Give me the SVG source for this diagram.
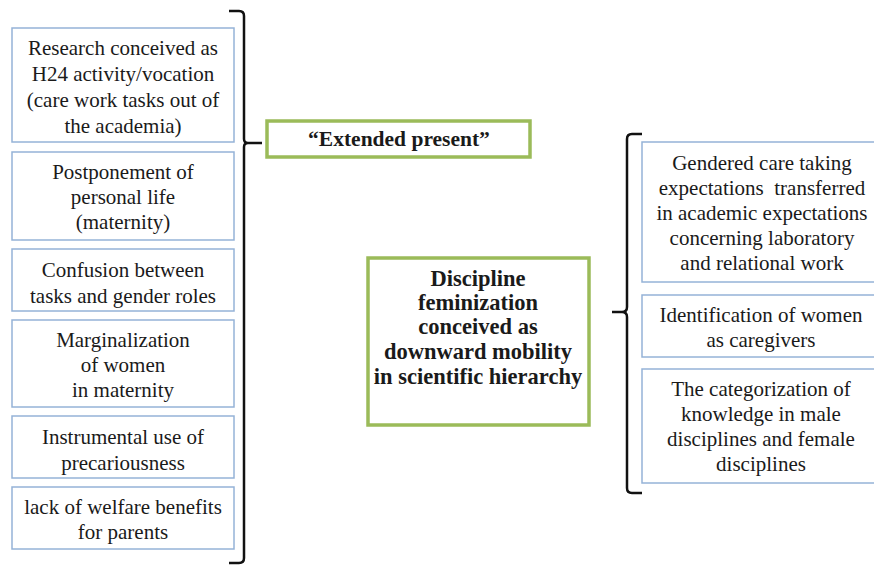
<svg xmlns="http://www.w3.org/2000/svg" width="874" height="567" viewBox="0 0 874 567">
  <style>
    .item { fill: #ffffff; stroke: #95b3d7; stroke-width: 1.5; }
    .key { fill: #ffffff; stroke: #9bbb59; stroke-width: 3.5; }
    .brace { fill: none; stroke: #111111; stroke-width: 2.5; stroke-linejoin: round; }
    text { fill: #1a1a1a; text-anchor: middle; font-size: 21px; }
    text.b { font-weight: bold; font-size: 21.5px; }
    text.bl { font-weight: bold; font-size: 22.5px; }
  </style>
  <rect width="874" height="567" fill="#ffffff"/>

  <!-- left column: items -->
  <g id="item-research">
    <rect class="item" x="12" y="28" width="222" height="114"/>
    <text font-family="Liberation Serif" x="123" y="55">Research conceived as</text>
    <text font-family="Liberation Serif" x="123" y="81">H24 activity/vocation</text>
    <text font-family="Liberation Serif" x="123" y="107">(care work tasks out of</text>
    <text font-family="Liberation Serif" x="123" y="133">the academia)</text>
  </g>
  <g id="item-postponement">
    <rect class="item" x="12" y="152" width="222" height="88"/>
    <text font-family="Liberation Serif" x="123" y="179">Postponement of</text>
    <text font-family="Liberation Serif" x="123" y="204">personal life</text>
    <text font-family="Liberation Serif" x="123" y="229">(maternity)</text>
  </g>
  <g id="item-confusion">
    <rect class="item" x="12" y="249" width="222" height="62"/>
    <text font-family="Liberation Serif" x="123" y="277">Confusion between</text>
    <text font-family="Liberation Serif" x="123" y="303">tasks and gender roles</text>
  </g>
  <g id="item-marginalization">
    <rect class="item" x="12" y="320" width="222" height="87"/>
    <text font-family="Liberation Serif" x="123" y="347">Marginalization</text>
    <text font-family="Liberation Serif" x="123" y="372">of women</text>
    <text font-family="Liberation Serif" x="123" y="397">in maternity</text>
  </g>
  <g id="item-precariousness">
    <rect class="item" x="12" y="416" width="222" height="62"/>
    <text font-family="Liberation Serif" x="123" y="444">Instrumental use of</text>
    <text font-family="Liberation Serif" x="123" y="470">precariousness</text>
  </g>
  <g id="item-welfare">
    <rect class="item" x="12" y="487" width="222" height="62"/>
    <text font-family="Liberation Serif" x="123" y="514">lack of welfare benefits</text>
    <text font-family="Liberation Serif" x="123" y="539">for parents</text>
  </g>

  <!-- central themes -->
  <g id="theme-extended-present">
    <rect class="key" x="267" y="121" width="263" height="36"/>
    <text class="b" font-family="Liberation Serif" x="399" y="146">“Extended present”</text>
  </g>
  <g id="theme-feminization">
    <rect class="key" x="368" y="258" width="221" height="167"/>
    <text class="bl" font-family="Liberation Serif" x="478" y="286">Discipline</text>
    <text class="bl" font-family="Liberation Serif" x="478" y="310">feminization</text>
    <text class="bl" font-family="Liberation Serif" x="478" y="334">conceived as</text>
    <text class="bl" font-family="Liberation Serif" x="478" y="359">downward mobility</text>
    <text class="bl" font-family="Liberation Serif" x="478" y="384">in scientific hierarchy</text>
  </g>

  <!-- right column: items -->
  <g id="item-care-taking">
    <rect class="item" x="642" y="142" width="234" height="140"/>
    <text font-family="Liberation Serif" x="762" y="170">Gendered care taking</text>
    <text font-family="Liberation Serif" x="762" y="195" xml:space="preserve">expectations  transferred</text>
    <text font-family="Liberation Serif" x="762" y="220">in academic expectations</text>
    <text font-family="Liberation Serif" x="762" y="245">concerning laboratory</text>
    <text font-family="Liberation Serif" x="762" y="270">and relational work</text>
  </g>
  <g id="item-caregivers">
    <rect class="item" x="642" y="295" width="234" height="62"/>
    <text font-family="Liberation Serif" x="761" y="322">Identification of women</text>
    <text font-family="Liberation Serif" x="761" y="347">as caregivers</text>
  </g>
  <g id="item-categorization">
    <rect class="item" x="642" y="369" width="234" height="114"/>
    <text font-family="Liberation Serif" x="761" y="396">The categorization of</text>
    <text font-family="Liberation Serif" x="761" y="421">knowledge in male</text>
    <text font-family="Liberation Serif" x="761" y="446">disciplines and female</text>
    <text font-family="Liberation Serif" x="761" y="471">disciplines</text>
  </g>

  <!-- connectors: curly braces grouping items to themes -->
  <g id="connectors">
    <path class="brace" d="M229,11 L239,11 Q244,11 244,16 L244,139 Q244,143 248,143 L262,143 M248,143 Q244,143 244,147 L244,558 Q244,563 239,563 L229,563"/>
    <path class="brace" d="M642,134 L632,134 Q627,134 627,139 L627,307 Q627,312 622,312 L612,312 M622,312 Q627,312 627,317 L627,488 Q627,493 632,493 L642,493"/>
  </g>
</svg>
